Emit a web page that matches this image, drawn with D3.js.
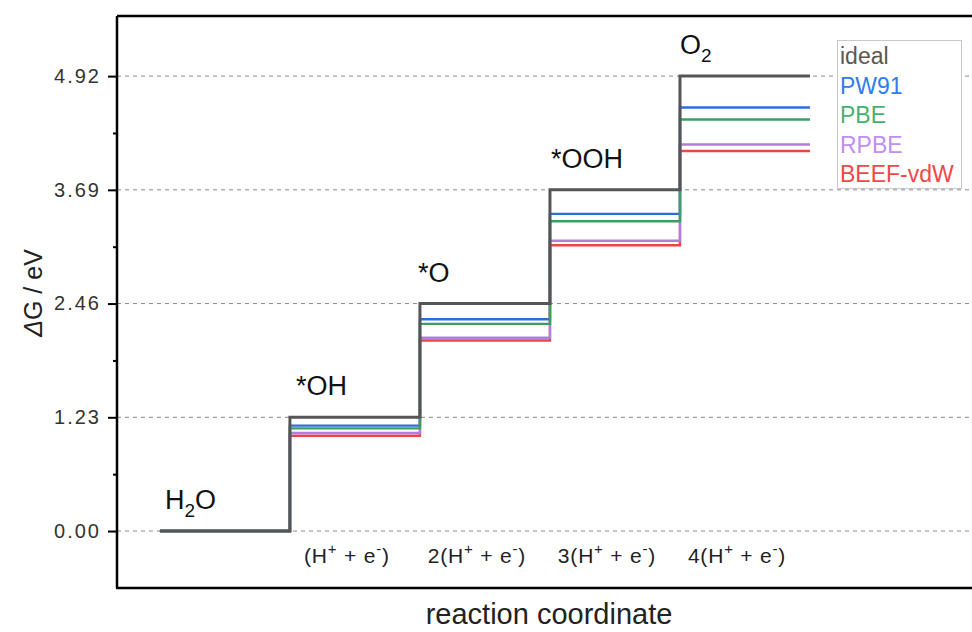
<!DOCTYPE html>
<html><head><meta charset="utf-8">
<script src="https://cdn.jsdelivr.net/npm/d3@7"></script>
<style>body{margin:0;background:#fff}svg{display:block}text{font-family:"Liberation Sans",Arial,sans-serif}</style>
</head><body>
<svg id="chart" width="972" height="632"></svg>
<script>
// ---- data ----
const steps = ["H2O", "*OH", "*O", "*OOH", "O2"];
const ideal = [0, 1.23, 2.46, 3.69, 4.92];
const pw91  = [0, 1.14, 2.29, 3.43, 4.58];
const pbe   = [0, 1.11, 2.24, 3.35, 4.45];
const rpbe  = [0, 1.06, 2.09, 3.14, 4.18];
const beef  = [0, 1.03, 2.06, 3.09, 4.11];
const seriesNames = ["ideal", "PW91", "PBE", "RPBE", "BEEF-vdW"];
const yTicks = [0, 1.23, 2.46, 3.69, 4.92];
const yMinorTicks = [0.615, 1.845, 3.075, 4.305];
const xTickPrefix = ["", "2", "3", "4"];

// ---- styles ----
const lineColors = {"ideal":"#555555","PW91":"#2a6fd6","PBE":"#3f9d63","RPBE":"#b07fdc","BEEF-vdW":"#e8474a"};
const textColors = {"ideal":"#5e5650","PW91":"#2f7cf0","PBE":"#49b06c","RPBE":"#c08ef0","BEEF-vdW":"#f04848"};
const seriesData = {"ideal":ideal,"PW91":pw91,"PBE":pbe,"RPBE":rpbe,"BEEF-vdW":beef};

const svg = d3.select("#chart");
const L = 117, T = 16, B = 588, R = 972;
const x = d3.scaleLinear().domain([-0.33, 6.246]).range([L, R]);
const y = d3.scaleLinear().domain([-0.616, 5.57]).range([B, T]);

// gridlines
svg.append("g").selectAll("line").data(yTicks).join("line")
  .attr("x1", L).attr("x2", R).attr("y1", d => y(d)).attr("y2", d => y(d))
  .attr("stroke", "#8a8a8a").attr("stroke-width", 1).attr("stroke-dasharray", "4,4");

// step lines
const line = d3.line().x(d => x(d[0])).y(d => y(d[1])).curve(d3.curveStepAfter);
const drawOrder = ["BEEF-vdW", "RPBE", "PW91", "PBE", "ideal"];
drawOrder.forEach(name => {
  const vals = seriesData[name];
  const pts = vals.map((v, i) => [i, v]);
  pts.push([vals.length, vals[vals.length - 1]]);
  svg.append("path").datum(pts).attr("d", line)
    .attr("fill", "none").attr("stroke", lineColors[name])
    .attr("stroke-width", name === "ideal" ? 3 : 2.4);
});

// frame
svg.append("line").attr("x1", L).attr("x2", R).attr("y1", T).attr("y2", T).attr("stroke", "#000").attr("stroke-width", 2.5);
svg.append("line").attr("x1", L - 1).attr("x2", R).attr("y1", B).attr("y2", B).attr("stroke", "#000").attr("stroke-width", 2.5);

// y axis
const yAxis = d3.axisLeft(y).tickValues(yTicks).tickFormat(d3.format(".2f")).tickSize(9).tickSizeOuter(0).tickPadding(7);
const ya = svg.append("g").attr("transform", `translate(${L},0)`).call(yAxis);
ya.select(".domain").attr("stroke", "#000").attr("stroke-width", 2.5).attr("d", `M0,${T}V${B}`);
ya.selectAll(".tick line").attr("stroke", "#000").attr("stroke-width", 2);
ya.selectAll(".tick text").attr("font-size", 20).attr("fill", "#333")
  .attr("font-family", "'Liberation Sans',Arial,sans-serif").style("letter-spacing", "2px");
const yMinor = d3.axisLeft(y).tickValues(yMinorTicks).tickSize(4).tickFormat("");
const ym = svg.append("g").attr("transform", `translate(${L},0)`).call(yMinor);
ym.select(".domain").remove();
ym.selectAll(".tick line").attr("stroke", "#000").attr("stroke-width", 2);

// y title
const yt = svg.append("text").attr("transform", `translate(42,${293}) rotate(-90)`)
  .attr("text-anchor", "middle").attr("font-size", 25).attr("fill", "#222");
yt.append("tspan").attr("font-style", "italic").text("Δ");
yt.append("tspan").text("G / eV");

// x tick labels
xTickPrefix.forEach((p, i) => {
  const t = svg.append("text").attr("x", x(i + 1.5) - 8).attr("y", 563)
    .attr("text-anchor", "middle").attr("font-size", 21).attr("fill", "#222")
    .style("letter-spacing", "0.8px");
  t.append("tspan").text(p + "(H");
  t.append("tspan").attr("font-size", 15).attr("dy", -9).text("+");
  t.append("tspan").attr("dy", 9).text(" + e");
  t.append("tspan").attr("font-size", 15).attr("dy", -9).text("-");
  t.append("tspan").attr("dy", 9).text(")");
});

// x title
svg.append("text").attr("x", 549).attr("y", 624).attr("text-anchor", "middle")
  .attr("font-size", 29).attr("fill", "#222").text("reaction coordinate");

// step labels
const labelDx = [5, 6, -2, 1, 0];
steps.forEach((s, i) => {
  const t = svg.append("text").attr("x", x(i) + labelDx[i]).attr("y", y(ideal[i]) - 22)
    .attr("font-size", 27).attr("fill", "#111");
  let shift = 0;
  s.split(/(\d)/).forEach(part => {
    if (part === "") return;
    if (/^\d$/.test(part)) {
      t.append("tspan").attr("font-size", 19).attr("dy", 8).text(part);
      shift = -8;
    } else {
      t.append("tspan").attr("dy", shift).text(part);
      shift = 0;
    }
  });
});

// legend
const lg = svg.append("g");
lg.append("rect").attr("x", 837.5).attr("y", 40.5).attr("width", 124).attr("height", 148)
  .attr("fill", "#fff").attr("stroke", "#c8c8c8").attr("stroke-width", 1);
seriesNames.forEach((n, i) => {
  lg.append("text").attr("x", 840).attr("y", 64 + i * 29.5)
    .attr("font-size", 23).attr("fill", textColors[n]).text(n);
});
</script>
</body></html>
